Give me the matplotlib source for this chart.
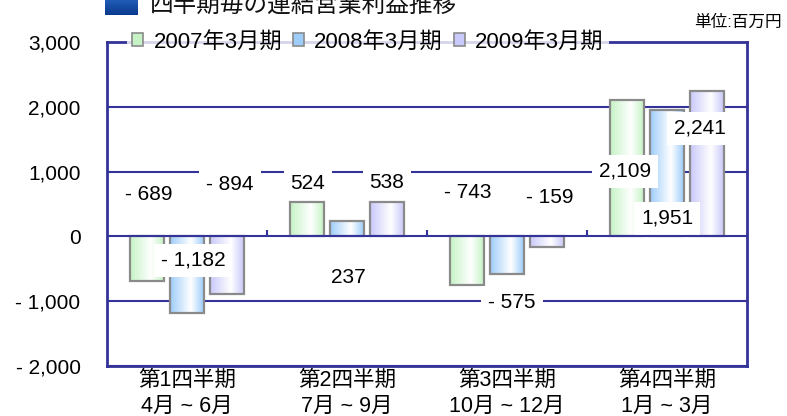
import numpy as np
import matplotlib
matplotlib.use("Agg")
import matplotlib.pyplot as plt
from matplotlib.patches import Patch, Rectangle
from matplotlib.colors import LinearSegmentedColormap

plt.rcParams['font.family'] = ['Liberation Sans', 'Noto Sans CJK JP', 'DejaVu Sans']

# ---- data ----
categories = ["第1四半期\n4月 ~ 6月", "第2四半期\n7月 ~ 9月", "第3四半期\n10月 ~ 12月", "第4四半期\n1月 ~ 3月"]
series_names = ["2007年3月期", "2008年3月期", "2009年3月期"]
fy2007 = [-689, 524, -743, 2109]
fy2008 = [-1182, 237, -575, 1951]
fy2009 = [-894, 538, -159, 2241]
yticks = [-2000, -1000, 0, 1000, 2000, 3000]
title = "四半期毎の連結営業利益推移"
unit_label = "単位:百万円"

# label placement (data coords: x category units, y values) - layout only
label_pos = [
    [(-0.238, 648), (0.756, 818), (1.756, 679), (2.738, 1003)],   # 2007
    [(0.038, -370), (1.006, -633), (2.031, -1019), (3.0, 278)],   # 2008
    [(0.269, 802), (1.25, 833), (2.269, 602), (3.206, 1667)],     # 2009
]

series = [fy2007, fy2008, fy2009]
base_cols = ["#c6f3c6", "#9fcdfb", "#c9c9fb"]
offsets = [-0.25, 0.0, 0.25]
bar_w = 0.21
navy = "#333399"

W, H = 787, 416
fig = plt.figure(figsize=(W / 100, H / 100), dpi=100)
ax = fig.add_axes([107 / W, 50 / H, 640 / W, 324 / H])

x = np.arange(len(categories))

for si, vals in enumerate(series):
    cmap = LinearSegmentedColormap.from_list(
        "g%d" % si, [(0, base_cols[si]), (0.62, "#ffffff"), (1.0, base_cols[si])])
    grad = np.linspace(0, 1, 64).reshape(1, -1)
    bars = ax.bar(x + offsets[si], vals, width=bar_w, facecolor="none",
                  edgecolor="#8a8a8a", linewidth=1.6, zorder=3)
    for b in bars:
        x0, y0 = b.get_x(), b.get_y()
        w, h = b.get_width(), b.get_height()
        im = ax.imshow(grad, cmap=cmap, aspect="auto",
                       extent=(x0, x0 + w, min(y0, y0 + h), max(y0, y0 + h)),
                       zorder=2.5, interpolation="bilinear")
        clip = Rectangle((x0, y0), w, h, transform=ax.transData)
        im.set_clip_path(clip)

ax.set_xlim(-0.5, len(categories) - 0.5)
ax.set_ylim(-2000, 3000)

# gridlines
for yv in yticks:
    if yv != 0:
        ax.axhline(yv, color=navy, lw=1.5, zorder=1)
ax.axhline(0, color=navy, lw=1.5, zorder=6)
ax.vlines(x[:-1] + 0.5, 0, 105, color=navy, lw=1.5, zorder=6)

# data labels
def fmt(v):
    return f"- {abs(v):,}" if v < 0 else f"{v:,}"

for si, vals in enumerate(series):
    for ci, v in enumerate(vals):
        px, py = label_pos[si][ci]
        ax.text(px, py, fmt(v), ha="center", va="center", fontsize=15,
                zorder=5, bbox=dict(facecolor="white", edgecolor="none", pad=5))

# axes style
ax.set_yticks(yticks)
ax.set_yticklabels([fmt(v) for v in yticks], fontsize=15)
ax.set_xticks(x)
ax.set_xticklabels(categories, fontsize=15.5, linespacing=1.3)
ax.tick_params(axis="y", length=0, pad=19)
ax.tick_params(axis="x", length=0, pad=3)
for s in ax.spines.values():
    s.set_color(navy)
    s.set_linewidth(2)

# legend
handles = [Patch(facecolor=c, edgecolor="#8a8a8a", linewidth=1.2) for c in base_cols]
leg = ax.legend(handles, series_names, loc="center left", bbox_to_anchor=(22 / 640, 1.0),
                ncol=3, frameon=True, fontsize=16, handlelength=0.5, handleheight=0.5,
                handletextpad=0.45, columnspacing=0.5, borderpad=0.15, borderaxespad=0)
leg.get_frame().set_facecolor("white")
leg.get_frame().set_edgecolor("none")
leg.get_frame().set_boxstyle("square", pad=0.1)
leg.set_zorder(7)

# title with icon
icon_ax = fig.add_axes([105 / W, (H - 15) / H, 33 / W, 22 / H])
icon_ax.imshow(np.linspace(0, 1, 32).reshape(-1, 1),
               cmap=LinearSegmentedColormap.from_list("ic", ["#2a6cc8", "#0a3a8e"]),
               aspect="auto", extent=(0, 1, 0, 1), origin="upper")
icon_ax.axis("off")
fig.text(150 / W, (H - 6) / H, title, fontsize=17, ha="left", va="center", color="#111111")
fig.text(782 / W, (H - 22) / H, unit_label, fontsize=12, ha="right", va="center")

fig.savefig("out.png", dpi=100)
